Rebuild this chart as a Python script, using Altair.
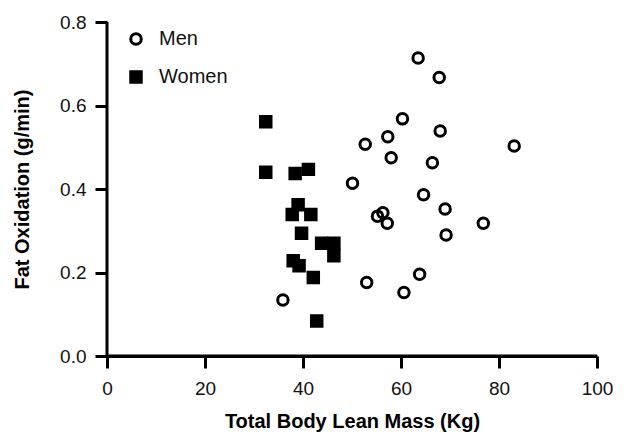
import altair as alt
import pandas as pd

# Men (open circles)
men_x = [63.5, 67.8, 60.3, 68.0, 57.3, 52.7, 83.1, 58.0, 66.4, 50.1, 64.6,
         69.0, 55.2, 56.3, 57.2, 76.8, 69.2, 63.8, 53.0, 60.6, 35.9]
men_y = [0.714, 0.667, 0.568, 0.539, 0.525, 0.507, 0.503, 0.475, 0.463, 0.414, 0.386,
         0.352, 0.335, 0.343, 0.318, 0.318, 0.290, 0.196, 0.176, 0.152, 0.134]

# Women (filled squares)
women_x = [32.4, 32.4, 38.4, 41.1, 39.0, 37.8, 41.6, 39.7, 43.8, 46.3, 46.3,
           38.0, 39.2, 42.1, 42.8]
women_y = [0.561, 0.440, 0.437, 0.447, 0.362, 0.339, 0.339, 0.294, 0.270, 0.270, 0.240,
           0.228, 0.216, 0.188, 0.084]

groups = ["Men", "Women"]
x_ticks = [0, 20, 40, 60, 80, 100]
y_ticks = [0.0, 0.2, 0.4, 0.6, 0.8]
x_range = [0, 100]
y_range = [0.0, 0.8]

df = pd.DataFrame({
    "x": men_x + women_x,
    "y": men_y + women_y,
    "sex": ["Men"] * len(men_x) + ["Women"] * len(women_x),
})

FONT = "Liberation Sans"

axis_style = dict(
    grid=False, domain=True, ticks=True,
    domainColor="#000000", domainWidth=3,
    tickColor="#000000", tickWidth=3, tickSize=12,
    labelFontSize=19, labelFont=FONT, labelColor="#111111", labelFlush=False,
    titleFontSize=20, titleFont=FONT, titleFontWeight="bold", titleColor="#000000",
)

legend = alt.Legend(
    title=None, orient="none", legendX=19, legendY=12, direction="vertical",
    labelFontSize=20, labelFont=FONT, labelColor="#111111",
    symbolSize=110, symbolStrokeWidth=3, symbolStrokeColor="#000000",
    rowPadding=14, labelOffset=13, padding=0,
)

xs = alt.Scale(domain=x_range, nice=False, zero=False)
ys = alt.Scale(domain=y_range, nice=False, zero=False)

points = alt.Chart(df).mark_point(
    strokeWidth=3, opacity=1, size=110
).encode(
    x=alt.X("x:Q", scale=xs,
            axis=alt.Axis(values=x_ticks, title="Total Body Lean Mass (Kg)",
                          labelPadding=11, titleY=71, titleX=245, offset=-5,
                          titleAlign="center", titleBaseline="alphabetic",
                          **axis_style)),
    y=alt.Y("y:Q", scale=ys,
            axis=alt.Axis(values=y_ticks, format=".1f", title="Fat Oxidation (g/min)",
                          labelPadding=9, titleX=-85, titleY=172, domainOpacity=0,
                          titleAlign="center", titleBaseline="middle",
                          **axis_style)),
    shape=alt.Shape("sex:N", scale=alt.Scale(domain=groups, range=["circle", "square"]),
                    legend=legend),
    fill=alt.Fill("sex:N", scale=alt.Scale(domain=groups, range=["transparent", "#000000"]),
                  legend=legend),
    stroke=alt.Stroke("sex:N", scale=alt.Scale(domain=groups, range=["#000000", "#000000"]),
                      legend=legend),
)

# y axis line as a rule from 0.0 to 0.8
yline = pd.DataFrame({"x": [x_range[0]], "y": [y_range[0]], "y2": [y_range[1]]})
rule_y = alt.Chart(yline).mark_rule(color="#000000", strokeWidth=3).encode(
    x=alt.X("x:Q", scale=xs), y=alt.Y("y:Q", scale=ys), y2="y2:Q"
)
# x axis line as a thin bar at y = 0
xline = pd.DataFrame({"x": [x_range[0]], "x2": [x_range[1]], "y": [y_range[0]]})
rect_x = alt.Chart(xline).mark_bar(color="#000000", height=3).encode(
    x=alt.X("x:Q", scale=xs), x2="x2:Q", y=alt.Y("y:Q", scale=ys)
)

chart = alt.layer(points, rule_y, rect_x).properties(
    width=490, height=344,
    autosize=alt.AutoSizeParams(type="none"),
    padding={"left": 99, "top": 9, "right": 19, "bottom": 79},
).configure_view(
    strokeWidth=0
)

chart.save("out.html", embed_options={"renderer": "svg", "actions": False})
